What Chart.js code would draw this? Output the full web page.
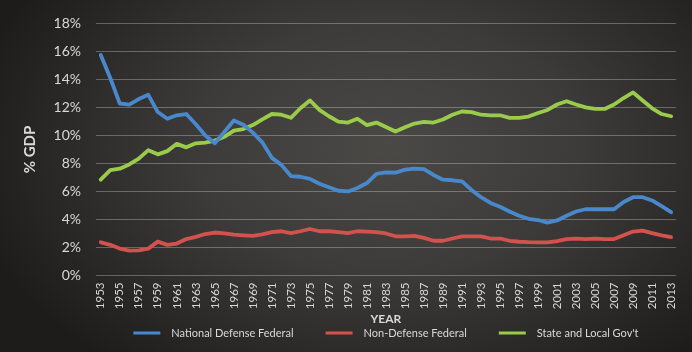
<!DOCTYPE html>
<html>
<head>
<meta charset="utf-8">
<script src="https://cdn.jsdelivr.net/npm/chart.js@4.4.1/dist/chart.umd.min.js"></script>
<style>
  html, body { margin: 0; padding: 0; background: #111; }
  #wrap {
    width: 692px; height: 352px; position: relative;
    background: radial-gradient(ellipse 62% 80% at 56% 42%, #4b4946 0%, #3d3b39 45%, #1d1c1b 100%);
  }
</style>
</head>
<body>
<div id="wrap"><canvas id="myChart" width="692" height="352"></canvas></div>
<script>
const years = [];
for (let y = 1953; y <= 2013; y++) years.push(String(y));

const defense = [15.75, 14.1, 12.28, 12.2, 12.6, 12.9, 11.67, 11.19, 11.44, 11.53,
    10.8, 10.0, 9.44, 10.24, 11.07, 10.76, 10.2, 9.5, 8.4, 7.9,
    7.1, 7.05, 6.9, 6.55, 6.3, 6.05, 6.0, 6.25, 6.6, 7.25,
    7.36, 7.34, 7.56, 7.63, 7.6, 7.18, 6.84, 6.8, 6.72, 6.11,
    5.59, 5.18, 4.91, 4.57, 4.27, 4.05, 3.96, 3.78, 3.93, 4.27,
    4.57, 4.73, 4.73, 4.73, 4.73, 5.25, 5.59, 5.59, 5.36, 4.95, 4.52];

const nonDefense = [2.37, 2.19, 1.92, 1.78, 1.8, 1.92, 2.42, 2.19, 2.28, 2.6,
    2.76, 2.96, 3.07, 3.0, 2.92, 2.87, 2.83, 2.94, 3.1, 3.16,
    3.03, 3.16, 3.32, 3.16, 3.16, 3.1, 3.03, 3.16, 3.13, 3.1,
    3.0, 2.8, 2.8, 2.83, 2.69, 2.48, 2.48, 2.64, 2.8, 2.8,
    2.8, 2.64, 2.64, 2.48, 2.41, 2.38, 2.37, 2.37, 2.46, 2.6,
    2.64, 2.6, 2.64, 2.6, 2.6, 2.87, 3.14, 3.21, 3.03, 2.87, 2.74];

const stateLocal = [6.84, 7.52, 7.63, 7.93, 8.35, 8.95, 8.65, 8.88, 9.4, 9.15,
    9.44, 9.49, 9.63, 9.9, 10.35, 10.46, 10.74, 11.14, 11.53, 11.48,
    11.26, 11.94, 12.5, 11.82, 11.37, 10.99, 10.92, 11.19, 10.74, 10.92,
    10.6, 10.28, 10.58, 10.85, 10.97, 10.92, 11.14, 11.48, 11.71, 11.67,
    11.48, 11.44, 11.44, 11.26, 11.26, 11.35, 11.6, 11.82, 12.21, 12.44,
    12.21, 12.0, 11.89, 11.89, 12.21, 12.67, 13.07, 12.5, 11.94, 11.53, 11.37];

const FONT = 'Lato, "Open Sans", sans-serif';
const TEXT = '#d9d9d9';

// legend drawn under the axis title, centred on the plot area
const lineLegend = {
    id: 'lineLegend',
    afterDraw(chart) {
        const ctx = chart.ctx;
        const area = chart.chartArea;
        const sample = 27, gap = 11, space = 32, y = 333;
        ctx.save();
        ctx.font = '11px ' + FONT;
        ctx.textBaseline = 'middle';
        const items = chart.data.datasets.map(ds => ({
            text: ds.label, color: ds.borderColor, w: ctx.measureText(ds.label).width
        }));
        let total = items.reduce((s, it) => s + sample + gap + it.w, 0) + space * (items.length - 1);
        let x = (area.left + area.right) / 2 - total / 2;
        items.forEach(it => {
            ctx.strokeStyle = it.color;
            ctx.lineWidth = 3;
            ctx.beginPath();
            ctx.moveTo(x, y);
            ctx.lineTo(x + sample, y);
            ctx.stroke();
            ctx.fillStyle = TEXT;
            ctx.fillText(it.text, x + sample + gap, y);
            x += sample + gap + it.w + space;
        });
        ctx.restore();
    }
};

const data = {
    labels: years,
    datasets: [
        { label: 'National Defense Federal', data: defense, borderColor: '#4a88cc' },
        { label: 'Non-Defense Federal', data: nonDefense, borderColor: '#d2524e' },
        { label: "State and Local Gov't", data: stateLocal, borderColor: '#9bcb4b' }
    ]
};
data.datasets.forEach(ds => {
    ds.borderWidth = 3.8;
    ds.pointRadius = 0;
    ds.tension = 0;
    ds.borderJoinStyle = 'round';
    ds.borderCapStyle = 'round';
});

const config = {
    type: 'line',
    data: data,
    options: {
        responsive: false,
        animation: false,
        layout: { padding: { left: 0, right: 8, top: 10.5, bottom: 26 } },
        plugins: {
            legend: { display: false },
            tooltip: { enabled: false }
        },
        scales: {
            x: {
                offset: true,
                grid: { display: false, drawTicks: false },
                border: { display: false },
                ticks: {
                    color: TEXT,
                    font: { family: FONT, size: 11.5 },
                    autoSkip: false,
                    minRotation: 90,
                    maxRotation: 90,
                    padding: 7,
                    callback: function (v, i) { return i % 2 === 0 ? years[i] : ''; }
                },
                title: {
                    display: true, text: 'YEAR', color: TEXT,
                    font: { family: FONT, size: 12, weight: 'bold' },
                    padding: { top: 0, bottom: 0 }
                },
                afterFit: function (scale) { scale.height = 50.5; }
            },
            y: {
                min: 0,
                max: 18,
                grid: { color: 'rgba(255,255,255,0.28)', lineWidth: 1, drawTicks: false },
                border: { display: false },
                ticks: {
                    stepSize: 2,
                    color: TEXT,
                    padding: 15,
                    font: { family: FONT, size: 14 },
                    callback: v => v + '%'
                },
                title: {
                    display: true, text: '% GDP', color: TEXT,
                    font: { family: FONT, size: 15, weight: 'bold' },
                    padding: { top: 21, bottom: 0 }
                },
                afterFit: function (scale) { scale.width = 96; }
            }
        }
    },
    plugins: [lineLegend]
};

window.onload = function () {
    const ctx = document.getElementById('myChart').getContext('2d');
    new Chart(ctx, config);
};
</script>
</body>
</html>
